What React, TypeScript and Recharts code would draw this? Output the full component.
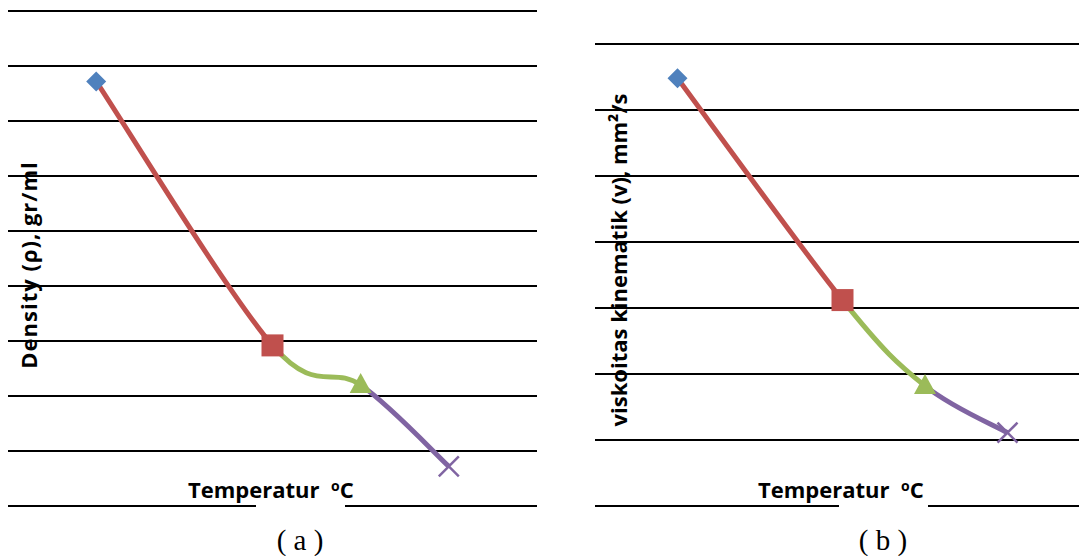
import { Line, LineChart, ReferenceLine, XAxis, YAxis } from "recharts";

// temperatures (°C) shared by both panels
const temps = [20, 40, 50, 60];
const tempDomain = [10, 70];

// (a) density, gr/ml
const densityValues = [0.8786, 0.8546, 0.851, 0.8436];
const densityTicks = [0.84, 0.845, 0.85, 0.855, 0.86, 0.865, 0.87, 0.875, 0.88, 0.885];

// (b) kinematic viscosity, mm2/s
const viscosityValues = [7.48, 4.12, 2.82, 2.11];
const viscosityTicks = [1, 2, 3, 4, 5, 6, 7, 8];

const pointColors = ["#4F81BD", "#C0504D", "#9BBB59", "#8064A2"];
const pointShapes = ["diamond", "square", "triangle", "cross"];

const LABEL_FONT = "'Open Sans', Lato, sans-serif";

// Excel-like smoothed line (catmull-rom bezier), used as a d3 curve factory
const excelSmooth = (context: any) => {
  let pts: number[][] = [];
  return {
    areaStart() {},
    areaEnd() {},
    lineStart() {
      pts = [];
    },
    point(x: number, y: number) {
      pts.push([+x, +y]);
    },
    lineEnd() {
      if (!pts.length) return;
      const k = 1 / 6;
      context.moveTo(pts[0][0], pts[0][1]);
      for (let i = 0; i < pts.length - 1; i++) {
        const p0 = pts[Math.max(i - 1, 0)];
        const p1 = pts[i];
        const p2 = pts[i + 1];
        const p3 = pts[Math.min(i + 2, pts.length - 1)];
        context.bezierCurveTo(
          p1[0] + (p2[0] - p0[0]) * k,
          p1[1] + (p2[1] - p0[1]) * k,
          p2[0] - (p3[0] - p1[0]) * k,
          p2[1] - (p3[1] - p1[1]) * k,
          p2[0],
          p2[1],
        );
      }
    },
  };
};

function Marker(props: any) {
  const { cx, cy, payload, index } = props;
  if (cx == null || cy == null) return null;
  const color = payload.color;
  const key = `dot-${index}`;
  switch (payload.kind) {
    case "diamond":
      return (
        <polygon
          key={key}
          points={`${cx},${cy - 10} ${cx + 10},${cy} ${cx},${cy + 10} ${cx - 10},${cy}`}
          fill={color}
        />
      );
    case "square":
      return <rect key={key} x={cx - 11} y={cy - 11} width={22} height={22} fill={color} />;
    case "triangle":
      return (
        <polygon
          key={key}
          points={`${cx},${cy - 12} ${cx + 11},${cy + 8} ${cx - 11},${cy + 8}`}
          fill={color}
        />
      );
    default:
      return (
        <g key={key} stroke={color} strokeWidth={2.5}>
          <line x1={cx - 10} y1={cy - 10} x2={cx + 10} y2={cy + 10} />
          <line x1={cx - 10} y1={cy + 10} x2={cx + 10} y2={cy - 10} />
        </g>
      );
  }
}

interface PanelProps {
  id: string;
  values: number[];
  ticks: number[];
  width: number;
  height: number;
  margin: { top: number; right: number; bottom: number; left: number };
}

function Panel({ id, values, ticks, width, height, margin }: PanelProps) {
  const rows = temps.map((t, i) => ({
    t,
    v: values[i],
    kind: pointShapes[i],
    color: pointColors[i],
  }));
  const span = temps[temps.length - 1] - temps[0];
  const frac = temps.map((t) => (t - temps[0]) / span);

  return (
    <LineChart width={width} height={height} data={rows} margin={margin}>
      <defs>
        <linearGradient id={id} x1="0" y1="0" x2="1" y2="0">
          {frac.slice(0, -1).flatMap((f, i) => [
            <stop key={`a${i}`} offset={f} stopColor={pointColors[i + 1]} />,
            <stop key={`b${i}`} offset={frac[i + 1]} stopColor={pointColors[i + 1]} />,
          ])}
        </linearGradient>
      </defs>
      <XAxis
        dataKey="t"
        type="number"
        domain={tempDomain}
        height={0}
        tick={false}
        axisLine={false}
        tickLine={false}
      />
      <YAxis
        type="number"
        domain={[ticks[0], ticks[ticks.length - 1]]}
        ticks={ticks}
        width={0}
        tick={false}
        axisLine={false}
        tickLine={false}
      />
      {ticks.map((v) => (
        <ReferenceLine key={v} y={v} stroke="#000" strokeWidth={2.2} ifOverflow="extendDomain" />
      ))}
      <Line
        dataKey="v"
        type={excelSmooth as any}
        stroke={`url(#${id})`}
        strokeWidth={5}
        dot={(p: any) => <Marker {...p} />}
        activeDot={false}
        isAnimationActive={false}
      />
    </LineChart>
  );
}

const abs = (s: React.CSSProperties): React.CSSProperties => ({ position: "absolute", ...s });

function YTitle({
  x,
  y,
  spacing = 0,
  children,
}: {
  x: number;
  y: number;
  spacing?: number;
  children: React.ReactNode;
}) {
  return (
    <div
      style={abs({
        left: x,
        top: y,
        transform: "translate(-50%, -50%) rotate(-90deg)",
        whiteSpace: "nowrap",
        fontFamily: LABEL_FONT,
        fontWeight: 700,
        fontSize: 22,
        letterSpacing: spacing,
        color: "#000",
        lineHeight: 1,
      })}
    >
      {children}
    </div>
  );
}

function XTitle({ x, y }: { x: number; y: number }) {
  return (
    <div
      style={abs({
        left: x,
        top: y,
        whiteSpace: "pre",
        fontFamily: LABEL_FONT,
        fontWeight: 700,
        fontSize: 22,
        color: "#000",
        lineHeight: 1,
        transform: "translateY(-50%)",
      })}
    >
      {"Temperatur  "}
      <sup style={{ fontSize: 14, verticalAlign: 7 }}>o</sup>C
    </div>
  );
}

function Caption({ x, y, text }: { x: number; y: number; text: string }) {
  return (
    <div
      style={abs({
        left: x,
        top: y,
        transform: "translate(-50%, -50%)",
        whiteSpace: "pre",
        fontFamily: "'Liberation Serif', 'Times New Roman', serif",
        fontSize: 29,
        color: "#000",
        lineHeight: 1,
      })}
    >
      {text}
    </div>
  );
}

export default function App() {
  return (
    <div style={abs({ left: 0, top: 0, width: 1079, height: 556, overflow: "hidden", background: "#fff" })}>
      <div style={abs({ left: 0, top: 0 })}>
        <Panel
          id="lineA"
          values={densityValues}
          ticks={densityTicks}
          width={540}
          height={556}
          margin={{ top: 11, right: 3, bottom: 50, left: 8 }}
        />
      </div>
      <div style={abs({ left: 540, top: 0 })}>
        <Panel
          id="lineB"
          values={viscosityValues}
          ticks={viscosityTicks}
          width={560}
          height={556}
          margin={{ top: 44, right: 10, bottom: 50, left: 55 }}
        />
      </div>

      <YTitle x={28} y={265} spacing={1}>
        Density (ρ), gr/ml
      </YTitle>
      <YTitle x={618} y={260}>
        viskoitas kinematik (v), mm²/s
      </YTitle>

      <div style={abs({ left: 256, top: 500, width: 89, height: 13, background: "#fff" })} />
      <div style={abs({ left: 839, top: 500, width: 89, height: 13, background: "#fff" })} />
      <XTitle x={188} y={489} />
      <XTitle x={758} y={489} />

      <Caption x={300} y={540} text="( a )" />
      <Caption x={883} y={540} text="( b )" />
    </div>
  );
}
